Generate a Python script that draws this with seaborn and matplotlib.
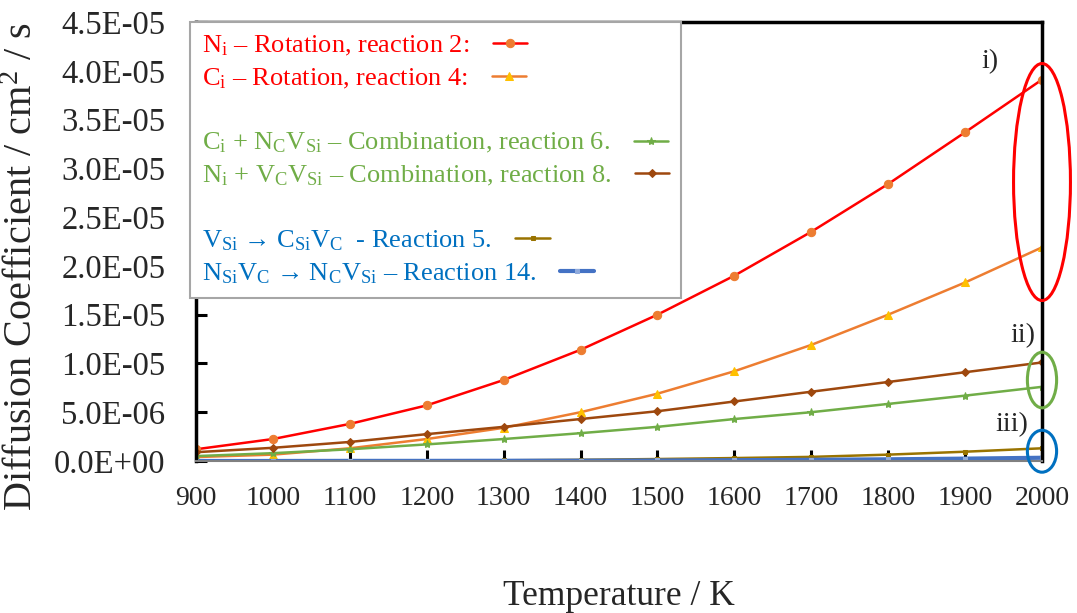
import numpy as np
import pandas as pd
import matplotlib
matplotlib.use("Agg")
import matplotlib.pyplot as plt
import seaborn as sns
from matplotlib.patches import Ellipse
from matplotlib.lines import Line2D
from matplotlib.ticker import FuncFormatter, MultipleLocator

temperature = [900, 1000, 1100, 1200, 1300, 1400, 1500, 1600, 1700, 1800, 1900, 2000]
ni_rotation = [1.2e-6, 2.25e-6, 3.8e-6, 5.7e-6, 8.3e-6, 1.14e-5, 1.5e-5, 1.9e-5, 2.35e-5, 2.84e-5, 3.37e-5, 3.91e-5]
ci_rotation = [0.4e-6, 0.65e-6, 1.3e-6, 2.25e-6, 3.4e-6, 5.0e-6, 6.9e-6, 9.2e-6, 1.19e-5, 1.5e-5, 1.83e-5, 2.19e-5]
ci_ncvsi = [0.5e-6, 0.8e-6, 1.2e-6, 1.7e-6, 2.25e-6, 2.85e-6, 3.5e-6, 4.3e-6, 5.0e-6, 5.85e-6, 6.7e-6, 7.6e-6]
ni_vcvsi = [0.9e-6, 1.35e-6, 1.95e-6, 2.75e-6, 3.5e-6, 4.3e-6, 5.1e-6, 6.1e-6, 7.1e-6, 8.1e-6, 9.1e-6, 1.01e-5]
vsi_csivc = [0.0, 0.01e-6, 0.02e-6, 0.04e-6, 0.07e-6, 0.12e-6, 0.2e-6, 0.3e-6, 0.42e-6, 0.65e-6, 0.95e-6, 1.3e-6]
nsivc_ncvsi = [0.0, 0.0, 0.01e-6, 0.01e-6, 0.02e-6, 0.03e-6, 0.05e-6, 0.08e-6, 0.12e-6, 0.17e-6, 0.24e-6, 0.33e-6]

labels = [
    r"N$_\mathrm{i}$ – Rotation, reaction 2:",
    r"C$_\mathrm{i}$ – Rotation, reaction 4:",
    r"C$_\mathrm{i}$ + N$_\mathrm{C}$V$_\mathrm{Si}$ – Combination, reaction 6.",
    r"N$_\mathrm{i}$ + V$_\mathrm{C}$V$_\mathrm{Si}$ – Combination, reaction 8.",
    r"V$_\mathrm{Si}$ → C$_\mathrm{Si}$V$_\mathrm{C}$  - Reaction 5.",
    r"N$_\mathrm{Si}$V$_\mathrm{C}$ → N$_\mathrm{C}$V$_\mathrm{Si}$ – Reaction 14.",
]

sns.set_theme(style="white")
plt.rcParams["font.family"] = ["Liberation Serif", "DejaVu Serif"]
plt.rcParams["mathtext.fontset"] = "custom"
plt.rcParams["mathtext.rm"] = "Liberation Serif"
plt.rcParams["mathtext.it"] = "Liberation Serif:italic"

fig = plt.figure(figsize=(10.77, 6.13), dpi=100)
ax = fig.add_axes([0.182, 0.248, 0.7855, 0.716])

styles = [
    dict(y=ni_rotation, color="#FF0000", marker="o", mfc="#ED7D31", mec="#ED7D31", ms=6, lw=1.8),
    dict(y=ci_rotation, color="#ED7D31", marker="^", mfc="#FFC000", mec="#FFC000", ms=6, lw=1.8),
    dict(y=ci_ncvsi, color="#70AD47", marker="*", mfc="#70AD47", mec="#70AD47", ms=6, lw=1.8),
    dict(y=ni_vcvsi, color="#9E480E", marker="D", mfc="#9E480E", mec="#9E480E", ms=4.5, lw=1.8),
    dict(y=vsi_csivc, color="#997300", marker="s", mfc="#997300", mec="#997300", ms=3, lw=1.8),
    dict(y=nsivc_ncvsi, color="#4472C4", marker="s", mfc="#8FAADC", mec="#8FAADC", ms=3, lw=3.0),
]
for st, lab in zip(styles, labels):
    df = pd.DataFrame({"T": temperature, "D": st["y"]})
    sns.lineplot(data=df, x="T", y="D", ax=ax, color=st["color"], marker=st["marker"],
                 markerfacecolor=st["mfc"], markeredgecolor=st["mec"], markersize=st["ms"],
                 linewidth=st["lw"], label=lab, legend=False)

ax.set_xlim(900, 2000)
ax.set_ylim(0, 4.5e-5)
ax.xaxis.set_major_locator(MultipleLocator(100))
ax.yaxis.set_major_locator(MultipleLocator(5e-6))
ax.yaxis.set_major_formatter(FuncFormatter(lambda v, p: f"{v:.1E}"))
ax.tick_params(axis="y", direction="in", length=8, width=2.2, color="black", labelsize=23.5, pad=22, left=True)
ax.tick_params(axis="x", direction="in", length=8, width=2.2, color="black", labelsize=20, pad=18, bottom=True)
for s in ["left", "top", "right"]:
    ax.spines[s].set_color("black")
    ax.spines[s].set_linewidth(2.5)
ax.spines["bottom"].set_color("#808080")
ax.spines["bottom"].set_linewidth(1.5)

ax.set_xlabel("Temperature / K", fontsize=25.5, labelpad=50)
ax.set_ylabel(r"Diffusion Coefficient / cm$^2$ / s", fontsize=29)
ax.yaxis.set_label_coords(-0.183, 0.442)

# legend with blank rows between groups
lines = ax.get_lines()[:6]
blank = Line2D([], [], linestyle="none")
handles = [lines[0], lines[1], blank, lines[2], lines[3], blank, lines[4], lines[5]]
leg_labels = [labels[0], labels[1], " ", labels[2], labels[3], " ", labels[4], labels[5]]
text_colors = ["#FF0000", "#FF0000", "white", "#70AD47", "#70AD47", "white", "#0070C0", "#0070C0"]
leg = ax.legend(handles, leg_labels, loc="upper left", bbox_to_anchor=(-0.007, 1.0),
                borderaxespad=0, fontsize=19, markerfirst=False, labelcolor=text_colors,
                frameon=True, fancybox=False, edgecolor="#A6A6A6", framealpha=1,
                handlelength=1.3, handletextpad=0.9, labelspacing=0.32, borderpad=0.45)
leg.get_frame().set_linewidth(1.5)
for col in leg._legend_handle_box.get_children():
    col.align = "left"

# annotation ellipses and labels
ax.add_patch(Ellipse((2000, 2.86e-5), 74, 2.43e-5, fill=False, edgecolor="#FF0000", lw=2.2, clip_on=False, zorder=5))
ax.add_patch(Ellipse((2000, 0.83e-5), 38, 0.57e-5, fill=False, edgecolor="#70AD47", lw=2.2, clip_on=False, zorder=5))
ax.add_patch(Ellipse((2000, 0.10e-5), 38, 0.43e-5, fill=False, edgecolor="#0070C0", lw=2.2, clip_on=False, zorder=5))
ax.text(1932, 4.09e-5, "i)", fontsize=20, ha="center", va="center")
ax.text(1975, 1.29e-5, "ii)", fontsize=20, ha="center", va="center")
ax.text(1961, 0.37e-5, "iii)", fontsize=20, ha="center", va="center")

fig.savefig("out.png", dpi=100)
